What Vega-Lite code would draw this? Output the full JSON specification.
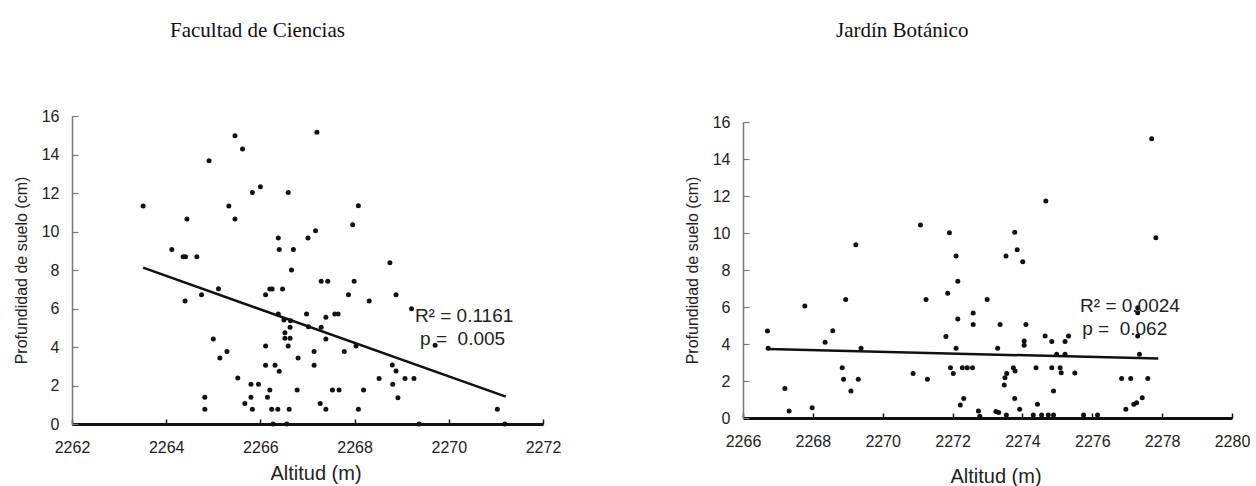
{
  "$schema": "https://vega.github.io/schema/vega-lite/v6.json",
  "background": "white",
  "padding": {"left": 13, "top": 20, "right": 0, "bottom": 0},
  "spacing": 200,
  "bounds": "flush",
  "center": true,
  "datasets": {
    "fc": [
      {"altitud": 2263.51, "prof": 11.32}, {"altitud": 2265.46, "prof": 14.98}, {"altitud": 2265.62, "prof": 14.29}, {"altitud": 2264.91, "prof": 13.68},
      {"altitud": 2265.83, "prof": 12.03}, {"altitud": 2266.00, "prof": 12.33}, {"altitud": 2266.59, "prof": 12.03}, {"altitud": 2267.20, "prof": 15.15},
      {"altitud": 2265.33, "prof": 11.32}, {"altitud": 2264.44, "prof": 10.65}, {"altitud": 2265.46, "prof": 10.65}, {"altitud": 2264.12, "prof": 9.07},
      {"altitud": 2264.36, "prof": 8.69}, {"altitud": 2264.41, "prof": 8.69}, {"altitud": 2264.65, "prof": 8.69}, {"altitud": 2264.40, "prof": 6.39},
      {"altitud": 2264.75, "prof": 6.72}, {"altitud": 2265.11, "prof": 7.03}, {"altitud": 2265.00, "prof": 4.42}, {"altitud": 2265.29, "prof": 3.76},
      {"altitud": 2265.14, "prof": 3.43}, {"altitud": 2265.52, "prof": 2.39}, {"altitud": 2264.82, "prof": 1.39}, {"altitud": 2264.82, "prof": 0.76},
      {"altitud": 2265.80, "prof": 2.06}, {"altitud": 2265.96, "prof": 2.06}, {"altitud": 2266.20, "prof": 1.77}, {"altitud": 2265.80, "prof": 1.39},
      {"altitud": 2266.15, "prof": 1.39}, {"altitud": 2265.67, "prof": 1.07}, {"altitud": 2265.83, "prof": 0.76}, {"altitud": 2266.24, "prof": 0.76},
      {"altitud": 2266.37, "prof": 0.76}, {"altitud": 2266.61, "prof": 0.76}, {"altitud": 2266.27, "prof": 0.0}, {"altitud": 2266.56, "prof": 0.0},
      {"altitud": 2266.38, "prof": 9.66}, {"altitud": 2266.40, "prof": 9.07}, {"altitud": 2266.70, "prof": 9.07}, {"altitud": 2266.66, "prof": 8.00},
      {"altitud": 2267.01, "prof": 9.66}, {"altitud": 2267.17, "prof": 10.04}, {"altitud": 2267.29, "prof": 7.41}, {"altitud": 2266.11, "prof": 6.72},
      {"altitud": 2266.20, "prof": 7.01}, {"altitud": 2266.25, "prof": 7.01}, {"altitud": 2266.47, "prof": 7.01}, {"altitud": 2266.38, "prof": 5.71},
      {"altitud": 2266.50, "prof": 5.40}, {"altitud": 2266.64, "prof": 5.37}, {"altitud": 2266.63, "prof": 5.02}, {"altitud": 2266.98, "prof": 5.71},
      {"altitud": 2266.52, "prof": 4.74}, {"altitud": 2266.52, "prof": 4.45}, {"altitud": 2266.63, "prof": 4.45}, {"altitud": 2266.59, "prof": 4.05},
      {"altitud": 2266.11, "prof": 4.05}, {"altitud": 2266.11, "prof": 3.05}, {"altitud": 2266.31, "prof": 3.05}, {"altitud": 2266.40, "prof": 2.74},
      {"altitud": 2266.80, "prof": 3.43}, {"altitud": 2267.14, "prof": 3.76}, {"altitud": 2267.14, "prof": 3.05}, {"altitud": 2266.78, "prof": 1.77},
      {"altitud": 2267.27, "prof": 1.07}, {"altitud": 2268.08, "prof": 11.34}, {"altitud": 2267.96, "prof": 10.35}, {"altitud": 2268.75, "prof": 8.38},
      {"altitud": 2267.43, "prof": 7.41}, {"altitud": 2267.99, "prof": 7.41}, {"altitud": 2267.87, "prof": 6.72}, {"altitud": 2268.88, "prof": 6.72},
      {"altitud": 2268.31, "prof": 6.39}, {"altitud": 2269.21, "prof": 5.99}, {"altitud": 2267.39, "prof": 5.54}, {"altitud": 2267.58, "prof": 5.71},
      {"altitud": 2267.65, "prof": 5.71}, {"altitud": 2267.29, "prof": 5.02}, {"altitud": 2267.39, "prof": 4.42}, {"altitud": 2267.78, "prof": 3.76},
      {"altitud": 2268.03, "prof": 4.05}, {"altitud": 2268.80, "prof": 3.06}, {"altitud": 2268.88, "prof": 2.75}, {"altitud": 2268.52, "prof": 2.37},
      {"altitud": 2269.07, "prof": 2.37}, {"altitud": 2269.26, "prof": 2.37}, {"altitud": 2268.81, "prof": 2.06}, {"altitud": 2268.92, "prof": 1.37},
      {"altitud": 2267.53, "prof": 1.77}, {"altitud": 2267.67, "prof": 1.77}, {"altitud": 2268.19, "prof": 1.77}, {"altitud": 2267.39, "prof": 0.76},
      {"altitud": 2268.08, "prof": 0.76}, {"altitud": 2271.03, "prof": 0.76}, {"altitud": 2269.37, "prof": 0.0}, {"altitud": 2271.19, "prof": 0.0},
      {"altitud": 2269.71, "prof": 4.09}, {"altitud": 2267.02, "prof": 5.05}
    ],
    "fcline": [{"altitud": 2263.51, "prof": 8.12}, {"altitud": 2271.21, "prof": 1.42}],
    "jb": [
      {"altitud": 2266.70, "prof": 4.70}, {"altitud": 2266.72, "prof": 3.77}, {"altitud": 2267.20, "prof": 1.60}, {"altitud": 2267.32, "prof": 0.38},
      {"altitud": 2267.77, "prof": 6.05}, {"altitud": 2267.98, "prof": 0.56}, {"altitud": 2268.35, "prof": 4.09}, {"altitud": 2268.57, "prof": 4.72},
      {"altitud": 2268.94, "prof": 6.40}, {"altitud": 2269.23, "prof": 9.37}, {"altitud": 2268.84, "prof": 2.72}, {"altitud": 2268.88, "prof": 2.09},
      {"altitud": 2269.30, "prof": 2.09}, {"altitud": 2269.09, "prof": 1.46}, {"altitud": 2269.38, "prof": 3.77}, {"altitud": 2271.08, "prof": 10.43},
      {"altitud": 2271.24, "prof": 6.40}, {"altitud": 2270.87, "prof": 2.40}, {"altitud": 2271.28, "prof": 2.09}, {"altitud": 2271.91, "prof": 10.02},
      {"altitud": 2272.10, "prof": 8.76}, {"altitud": 2272.15, "prof": 7.39}, {"altitud": 2271.86, "prof": 6.74}, {"altitud": 2272.15, "prof": 5.35},
      {"altitud": 2272.59, "prof": 5.68}, {"altitud": 2272.59, "prof": 5.05}, {"altitud": 2271.81, "prof": 4.41}, {"altitud": 2272.10, "prof": 3.77},
      {"altitud": 2271.94, "prof": 2.72}, {"altitud": 2272.02, "prof": 2.40}, {"altitud": 2272.28, "prof": 2.72}, {"altitud": 2272.42, "prof": 2.72},
      {"altitud": 2272.57, "prof": 2.72}, {"altitud": 2272.32, "prof": 1.06}, {"altitud": 2272.22, "prof": 0.70}, {"altitud": 2272.74, "prof": 0.38},
      {"altitud": 2277.70, "prof": 15.10}, {"altitud": 2277.82, "prof": 9.75}, {"altitud": 2274.67, "prof": 11.73}, {"altitud": 2273.78, "prof": 10.04},
      {"altitud": 2273.85, "prof": 9.10}, {"altitud": 2273.53, "prof": 8.76}, {"altitud": 2274.01, "prof": 8.45}, {"altitud": 2272.99, "prof": 6.40},
      {"altitud": 2273.36, "prof": 5.06}, {"altitud": 2274.10, "prof": 5.06}, {"altitud": 2273.29, "prof": 3.77}, {"altitud": 2274.05, "prof": 4.16},
      {"altitud": 2274.05, "prof": 3.93}, {"altitud": 2274.65, "prof": 4.43}, {"altitud": 2274.84, "prof": 4.13}, {"altitud": 2275.22, "prof": 4.13},
      {"altitud": 2275.32, "prof": 4.43}, {"altitud": 2274.98, "prof": 3.44}, {"altitud": 2275.22, "prof": 3.44}, {"altitud": 2277.30, "prof": 5.96},
      {"altitud": 2277.30, "prof": 5.69}, {"altitud": 2277.30, "prof": 4.43}, {"altitud": 2277.35, "prof": 3.44}, {"altitud": 2273.74, "prof": 2.72},
      {"altitud": 2273.79, "prof": 2.54}, {"altitud": 2273.55, "prof": 2.41}, {"altitud": 2273.50, "prof": 2.18}, {"altitud": 2273.48, "prof": 1.78},
      {"altitud": 2274.39, "prof": 2.72}, {"altitud": 2274.84, "prof": 2.72}, {"altitud": 2275.08, "prof": 2.72}, {"altitud": 2275.11, "prof": 2.45},
      {"altitud": 2275.50, "prof": 2.43}, {"altitud": 2274.89, "prof": 1.46}, {"altitud": 2273.78, "prof": 1.06}, {"altitud": 2274.43, "prof": 0.74},
      {"altitud": 2276.84, "prof": 2.13}, {"altitud": 2277.10, "prof": 2.13}, {"altitud": 2277.59, "prof": 2.13}, {"altitud": 2277.43, "prof": 1.10},
      {"altitud": 2277.27, "prof": 0.83}, {"altitud": 2277.19, "prof": 0.74}, {"altitud": 2276.96, "prof": 0.47}, {"altitud": 2272.78, "prof": 0.1},
      {"altitud": 2273.24, "prof": 0.35}, {"altitud": 2273.32, "prof": 0.3}, {"altitud": 2273.54, "prof": 0.16}, {"altitud": 2273.92, "prof": 0.47},
      {"altitud": 2274.31, "prof": 0.16}, {"altitud": 2274.55, "prof": 0.16}, {"altitud": 2274.74, "prof": 0.16}, {"altitud": 2274.89, "prof": 0.16},
      {"altitud": 2275.75, "prof": 0.16}, {"altitud": 2276.15, "prof": 0.16}
    ],
    "jbline": [{"altitud": 2266.72, "prof": 3.73}, {"altitud": 2277.89, "prof": 3.21}]
  },
  "hconcat": [
    {
      "width": 471,
      "height": 308,
      "title": {"text": "Facultad de Ciencias", "font": "Liberation Serif", "fontSize": 21, "fontWeight": "normal", "color": "#111", "anchor": "start", "frame": "group", "dx": 98, "offset": 67},
      "layer": [
        {
          "data": {"name": "fc"},
          "mark": {"type": "circle", "size": 25, "color": "#111", "opacity": 1},
          "encoding": {
            "x": {"field": "altitud", "type": "quantitative", "scale": {"domain": [2262, 2272], "nice": false, "zero": false},
                  "axis": {"values": [2262, 2264, 2266, 2268, 2270, 2272], "title": "Altitud (m)", "titleX": 243.5, "titlePadding": 8, "labelOverlap": false}},
            "y": {"field": "prof", "type": "quantitative", "scale": {"domain": [0, 16], "nice": false},
                  "axis": {"values": [0, 2, 4, 6, 8, 10, 12, 14, 16], "tickCount": 9, "title": "Profundidad de suelo (cm)", "labelOverlap": false, "labelSeparation": -30, "labelBound": false}}
          }
        },
        {
          "data": {"name": "fcline"},
          "mark": {"type": "line", "color": "#111", "strokeWidth": 2.5},
          "encoding": {"x": {"field": "altitud", "type": "quantitative"}, "y": {"field": "prof", "type": "quantitative"}}
        },
        {
          "data": {"values": [{"label": "R² = 0.1161"}]},
          "mark": {"type": "text", "align": "left", "baseline": "middle", "font": "Liberation Sans", "fontSize": 19, "color": "#222"},
          "encoding": {"x": {"datum": 2269.28}, "y": {"datum": 5.61}, "text": {"field": "label"}}
        },
        {
          "data": {"values": [{"label": "p = \u00a00.005"}]},
          "mark": {"type": "text", "align": "left", "baseline": "middle", "font": "Liberation Sans", "fontSize": 19, "color": "#222"},
          "encoding": {"x": {"datum": 2269.39}, "y": {"datum": 4.42}, "text": {"field": "label"}}
        }
      ]
    },
    {
      "width": 489,
      "height": 296,
      "title": {"text": "Jardín Botánico", "font": "Liberation Serif", "fontSize": 21, "fontWeight": "normal", "color": "#111", "anchor": "start", "frame": "group", "dx": 93, "offset": 73},
      "layer": [
        {
          "data": {"name": "jb"},
          "mark": {"type": "circle", "size": 25, "color": "#111", "opacity": 1},
          "encoding": {
            "x": {"field": "altitud", "type": "quantitative", "scale": {"domain": [2266, 2280], "nice": false, "zero": false},
                  "axis": {"values": [2266, 2268, 2270, 2272, 2274, 2276, 2278, 2280], "title": "Altitud (m)", "titleX": 252.5, "titlePadding": 17, "labelOverlap": false}},
            "y": {"field": "prof", "type": "quantitative", "scale": {"domain": [0, 16], "nice": false},
                  "axis": {"values": [0, 2, 4, 6, 8, 10, 12, 14, 16], "tickCount": 9, "title": "Profundidad de suelo (cm)", "labelOverlap": false, "labelSeparation": -30, "labelBound": false}}
          }
        },
        {
          "data": {"name": "jbline"},
          "mark": {"type": "line", "color": "#111", "strokeWidth": 2.5},
          "encoding": {"x": {"field": "altitud", "type": "quantitative"}, "y": {"field": "prof", "type": "quantitative"}}
        },
        {
          "data": {"values": [{"label": "R² = 0.0024"}]},
          "mark": {"type": "text", "align": "left", "baseline": "middle", "font": "Liberation Sans", "fontSize": 19, "color": "#222"},
          "encoding": {"x": {"datum": 2275.65}, "y": {"datum": 6.05}, "text": {"field": "label"}}
        },
        {
          "data": {"values": [{"label": "p = \u00a00.062"}]},
          "mark": {"type": "text", "align": "left", "baseline": "middle", "font": "Liberation Sans", "fontSize": 19, "color": "#222"},
          "encoding": {"x": {"datum": 2275.71}, "y": {"datum": 4.81}, "text": {"field": "label"}}
        }
      ]
    }
  ],
  "config": {
    "view": {"stroke": null},
    "font": "Liberation Sans",
    "axis": {"grid": false, "labelFont": "Liberation Sans", "titleFont": "Liberation Sans", "labelFontSize": 16, "labelColor": "#222", "titleColor": "#222", "titleFontWeight": "normal", "labelFlush": false},
    "axisX": {"domainColor": "#111", "domainWidth": 3, "tickColor": "#111", "tickWidth": 1.5, "tickSize": -5, "labelPadding": 20, "titleFontSize": 20, "format": "d"},
    "axisY": {"domainColor": "#777", "domainWidth": 1.5, "tickColor": "#777", "tickWidth": 1.2, "tickSize": -6, "labelPadding": 19, "titleFontSize": 16, "titlePadding": 12, "format": ".0f"}
  }
}
